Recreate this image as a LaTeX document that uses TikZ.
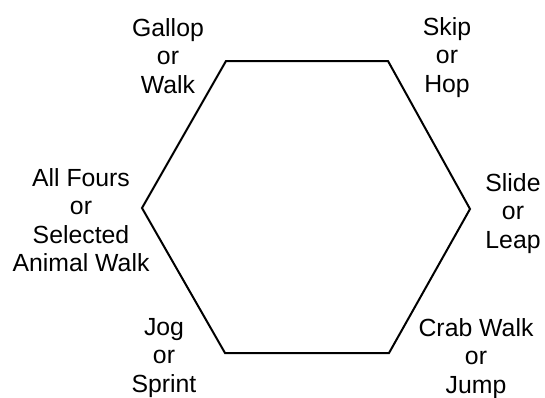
\documentclass[tikz,border=0pt]{standalone}
\usepackage{fontspec}
\setmainfont{Liberation Sans}
\usetikzlibrary{positioning}

\begin{document}
\begin{tikzpicture}[
            x=0.5pt, y=-0.5pt,
            move/.style={align=center, anchor=north, inner sep=0pt, font=\fontsize{12.4}{14.2}\selectfont},
            edge/.style={line width=1pt, line join=miter}
        ]
        \useasboundingbox (0,0) rectangle (545,397);

        % --- SOMMETS DE L'HEXAGONE ---
        \coordinate (TL) at (226,61);
        \coordinate (TR) at (388,61);
        \coordinate (R)  at (470,209);
        \coordinate (BR) at (389,353);
        \coordinate (BL) at (225,353);
        \coordinate (L)  at (142,208);

        \draw[edge] (TL) -- (TR) -- (R) -- (BR) -- (BL) -- (L) -- cycle;

        % --- LABELS ---
        \node[move] (gallop) at (168,18)  {Gallop\\or\\Walk};
        \node[move] (skip)   at (447,17)  {Skip\\or\\Hop};
        \node[move] (fours)  at (81,168)  {All Fours\\or\\Selected\\Animal Walk};
        \node[move] (slide)  at (513,173) {Slide\\or\\Leap};
        \node[move] (jog)    at (164,318) {Jog\\or\\Sprint};
        \node[move] (crab)   at (476,318) {Crab Walk\\or\\Jump};

    \end{tikzpicture}
\end{document}
